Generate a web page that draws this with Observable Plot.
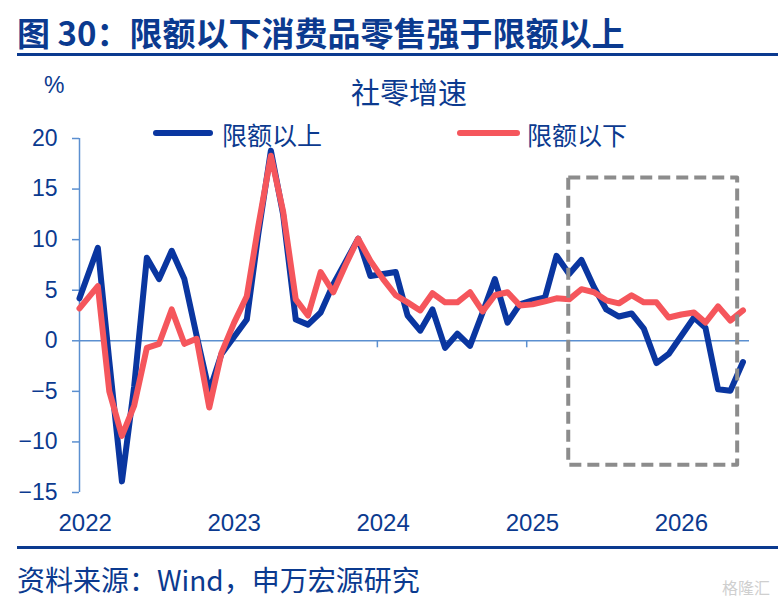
<!DOCTYPE html>
<html>
<head>
<meta charset="utf-8">
<script src="https://cdn.jsdelivr.net/npm/d3@7"></script>
<script src="https://cdn.jsdelivr.net/npm/@observablehq/plot@0.6"></script>
<style>
  body { margin: 0; background: #fff; }
  #wrap { position: relative; width: 778px; height: 604px; overflow: hidden; font-family: "Noto Sans CJK SC", sans-serif; color: #0b3a8f; }
  .abs { position: absolute; white-space: nowrap; }
</style>
</head>
<body>
<div id="wrap">
  <div class="abs" style="left:17px;top:16px;font-size:33px;line-height:33px;font-weight:700;">图 30：限额以下消费品零售强于限额以上</div>
  <div class="abs" style="left:17px;top:53px;width:761px;height:3px;background:#0b3a8f;"></div>
  <div id="chart" class="abs" style="left:0;top:57px;"></div>
  <div class="abs" style="left:44px;top:74px;font-family:'Liberation Sans',Arial,sans-serif;font-size:23px;line-height:23px;">%</div>
  <div class="abs" style="left:309px;top:77px;width:200px;text-align:center;font-size:29px;line-height:29px;">社零增速</div>
  <div class="abs" style="left:153px;top:130px;width:60px;height:6px;border-radius:3px;background:#0a36a0;"></div>
  <div class="abs" style="left:222px;top:122px;font-size:25px;line-height:25px;">限额以上</div>
  <div class="abs" style="left:457px;top:130px;width:63px;height:6px;border-radius:3px;background:#f5565c;"></div>
  <div class="abs" style="left:527px;top:122px;font-size:25px;line-height:25px;">限额以下</div>
  <div class="abs" style="left:17px;top:546px;width:761px;height:3px;background:#0b3a8f;"></div>
  <div class="abs" style="left:17px;top:565px;font-size:28px;line-height:28px;">资料来源：Wind，申万宏源研究</div>
  <div class="abs" style="left:722px;top:579px;font-size:16px;line-height:16px;color:#cfcfcf;">格隆汇</div>
</div>
<script>
// Monthly observations, Jan 2022 – Jun 2026 (reading of the reference chart)
const aboveQuota = [ // 限额以上
  4.2, 9.2, -2.0, -13.9, -4.5, 8.2, 6.1, 8.9, 6.1, 0.5, -5.0, -1.3,
  0.4, 2.1, 10.5, 18.8, 12.5, 2.1, 1.6, 2.8, 5.6, 7.8, 10.1, 6.4,
  6.6, 6.8, 2.5, 1.0, 3.1, -0.7, 0.7, -0.5, 2.8, 6.1, 1.8, 3.6,
  4.0, 4.3, 8.4, 6.6, 8.0, 5.3, 3.1, 2.4, 2.7, 1.2, -2.2, -1.3,
  0.5, 2.3, 1.3, -4.8, -4.95, -2.1
];
const belowQuota = [ // 限额以下
  3.2, 5.4, -5.0, -9.4, -6.4, -0.7, -0.3, 3.1, -0.3, 0.2, -6.6, -1.2,
  1.8, 4.4, 11.3, 18.3, 12.8, 4.1, 2.5, 6.8, 4.8, 7.5, 10.1, 7.9,
  6.1, 4.5, 3.8, 3.0, 4.7, 3.8, 3.8, 4.8, 2.9, 4.5, 4.8, 3.5,
  3.6, 3.9, 4.2, 4.1, 5.1, 4.8, 4.0, 3.7, 4.5, 3.8, 3.8, 2.3,
  2.6, 2.8, 1.8, 3.4, 2.0, 3.0
];
const yearLabels = ["2022", "2023", "2024", "2025", "2026"];
const yTicks = [-15, -10, -5, 0, 5, 10, 15, 20];
// highlighted (dashed) region
const highlight = [{start: "2025-04-14", end: "2026-06-02", top: 16.1, bottom: -12.3}];

const blue = "#0a36a0", red = "#f5565c", axisColor = "#5b8fd0", textColor = "#0b3a8f";

// first observation sits at the start of its month, the others at mid-month
const months = d3.utcMonth.range(new Date(Date.UTC(2022, 0, 1)), new Date(Date.UTC(2026, 6, 1)));
const data = months.map((m, i) => ({
  date: i === 0 ? m : d3.utcDay.offset(m, 14),
  above: aboveQuota[i],
  below: belowQuota[i]
}));
const yearStarts = yearLabels.map(y => new Date(`${y}-01-01`));
const labelDates = yearLabels.map(y => new Date(`${y}-01-15`));
const box = highlight.map(d => ({...d, start: new Date(d.start), end: new Date(d.end)}));
const xStart = new Date("2022-01-01"), xEnd = new Date("2026-07-01");

const chart = Plot.plot({
  width: 778,
  height: 489,
  marginLeft: 79,
  marginRight: 29,
  marginTop: 81,
  marginBottom: 54,
  x: {type: "utc", domain: [xStart, xEnd]},
  y: {domain: [-15, 20]},
  style: {background: "transparent", fontFamily: "'Liberation Sans', Arial, sans-serif", fontSize: "23px", overflow: "visible"},
  marks: [
    Plot.ruleY([0], {stroke: axisColor, strokeWidth: 1.5}),
    Plot.ruleX(yearStarts.slice(1), {y1: 0, y2: 0, insetBottom: -7, stroke: axisColor, strokeWidth: 1.5}),
    Plot.ruleX([xStart], {y1: yTicks[0], y2: yTicks[yTicks.length - 1], stroke: axisColor, strokeWidth: 1.5}),
    Plot.axisY({ticks: yTicks, tickSize: 7, tickPadding: 15, stroke: axisColor, strokeWidth: 1.5, fill: textColor}),
    Plot.axisX({ticks: labelDates, tickSize: 0, tickPadding: 21, tickFormat: d3.utcFormat("%Y"), fill: textColor, fontSize: 24}),
    Plot.line(data, {x: "date", y: "above", stroke: blue, strokeWidth: 6, strokeLinejoin: "round"}),
    Plot.line(data, {x: "date", y: "below", stroke: red, strokeWidth: 6, strokeLinejoin: "round"}),
    Plot.rect(box, {x1: "start", x2: "end", y1: "bottom", y2: "top", fill: "none", stroke: "#8c8c8c", strokeWidth: 4, strokeDasharray: "12,6", strokeLinejoin: "round"})
  ]
});
document.getElementById("chart").appendChild(chart);
</script>
</body>
</html>
